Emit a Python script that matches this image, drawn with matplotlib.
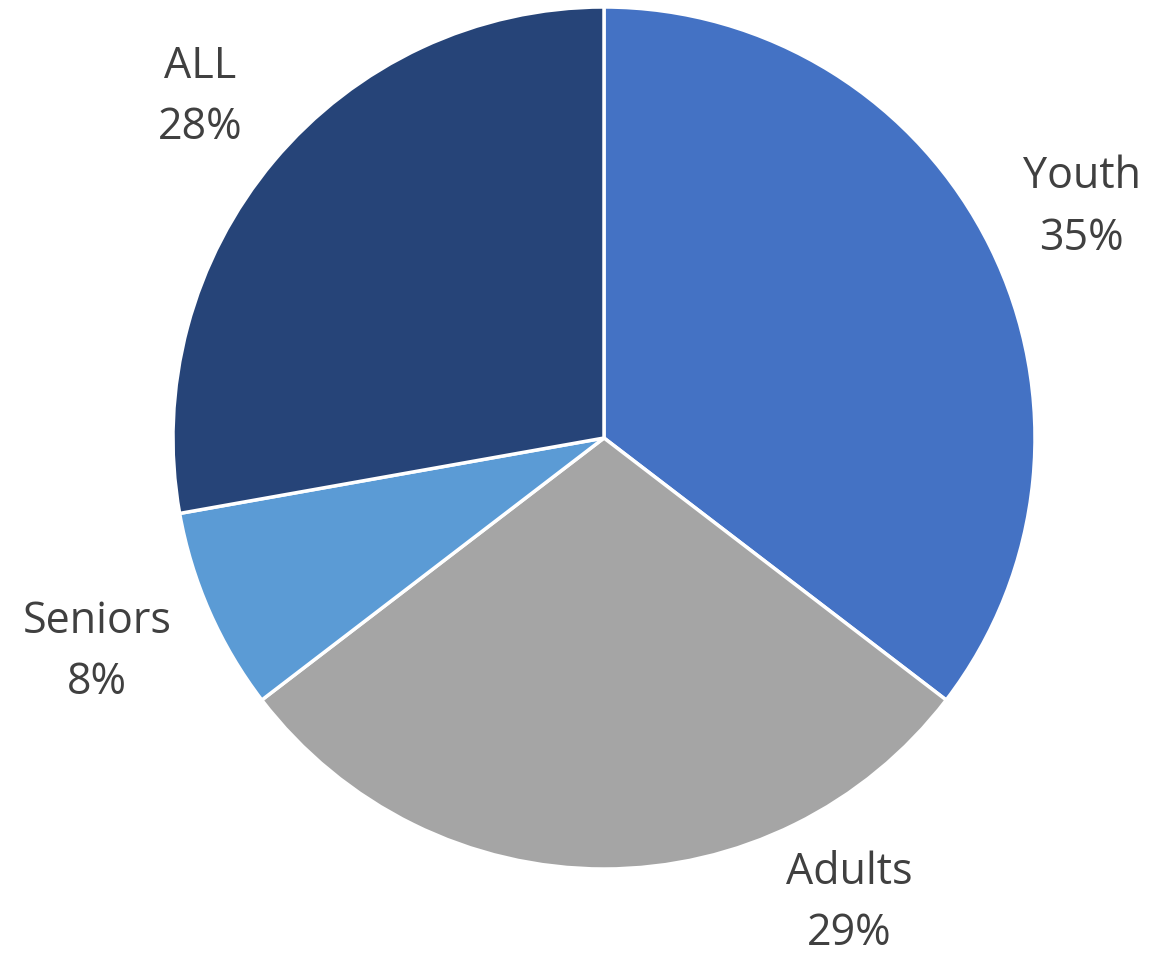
import matplotlib.pyplot as plt

labels = ["Youth", "Adults", "Seniors", "ALL"]
shares = [35.4, 29.2, 7.6, 27.8]
colors = ["#4472C4", "#A5A5A5", "#5B9BD5", "#264478"]
# where each category label sits, in pie radius units
label_xy = [(1.108, 0.534), (0.568, -1.080), (-1.177, -0.497), (-0.937, 0.790)]

W, H = 1154, 955
cx, cy, r = 604, 438, 431

fig = plt.figure(figsize=(W / 100, H / 100), dpi=100)
ax = fig.add_axes([0, 0, 1, 1])

ax.pie(shares, colors=colors, startangle=90, counterclock=False,
       wedgeprops=dict(edgecolor="white", linewidth=2.5))

total = sum(shares)
for name, val, (x, y) in zip(labels, shares, label_xy):
    ax.text(x, y, f"{name}\n{100 * val / total:.0f}%", ha="center", va="center",
            fontsize=31, color="#404040", family="Open Sans", linespacing=1.5)

ax.set_xlim(-cx / r, (W - cx) / r)
ax.set_ylim(-(H - cy) / r, cy / r)
ax.set_aspect("equal")
ax.axis("off")

fig.savefig("out.png", dpi=100)
